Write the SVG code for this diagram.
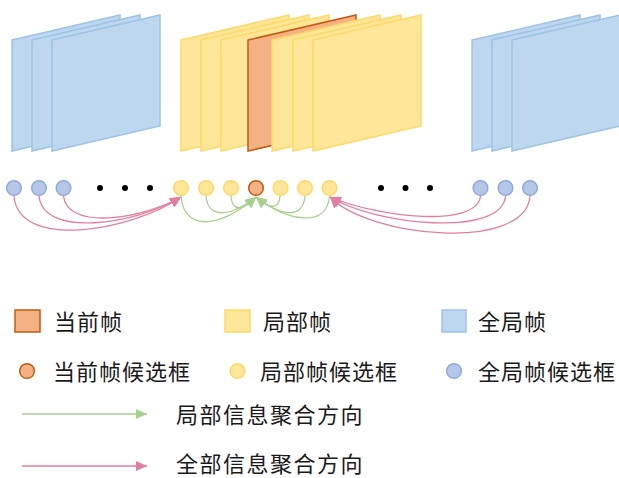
<svg xmlns="http://www.w3.org/2000/svg" xmlns:xlink="http://www.w3.org/1999/xlink" width="619" height="478" viewBox="0 0 619 478">
<style>
.blue{fill:#bdd7ee;stroke:#9dc3e6;stroke-width:1.5}
.yel{fill:#ffe699;stroke:#ffd966;stroke-width:1.5}
.org{fill:#f4b183;stroke:#c55a11;stroke-width:1.5}
.cb{fill:#b4c7e7;stroke:#8faadc;stroke-width:1.5}
.cy{fill:#ffe699;stroke:#ffd966;stroke-width:1.5}
.co{fill:#f4b183;stroke:#c55a11;stroke-width:1.5}
.pk{fill:none;stroke:#e47da0;stroke-width:1.3;marker-end:url(#ap)}
.gr{fill:none;stroke:#a9d18e;stroke-width:1.3;marker-end:url(#ag)}
.t{font-family:"Noto Sans CJK SC","Noto Sans",sans-serif;font-size:22px;fill:#1a1a1a;letter-spacing:1px}
</style>
<defs>
<polygon id="frame" points="0,40 108,15 108,126 0,151"/>
<marker id="ap" markerUnits="userSpaceOnUse" markerWidth="11" markerHeight="10" refX="11" refY="5" orient="auto"><path d="M0,0 L11,5 L0,10 z" fill="#e47da0"/></marker>
<marker id="ag" markerUnits="userSpaceOnUse" markerWidth="11" markerHeight="10" refX="11" refY="5" orient="auto"><path d="M0,0 L11,5 L0,10 z" fill="#a9d18e"/></marker>
</defs>
<g id="frames-left">
<use href="#frame" x="12" class="blue"/>
<use href="#frame" x="32" class="blue"/>
<use href="#frame" x="52" class="blue"/>
</g>
<g id="frames-local">
<use href="#frame" x="181" class="yel"/>
<use href="#frame" x="201" class="yel"/>
<use href="#frame" x="221" class="yel"/>
<use href="#frame" x="248" class="org"/>
<use href="#frame" x="272" class="yel"/>
<use href="#frame" x="293" class="yel"/>
<use href="#frame" x="313" class="yel"/>
</g>
<g id="frames-right">
<use href="#frame" x="472" class="blue"/>
<use href="#frame" x="492" class="blue"/>
<use href="#frame" x="512" class="blue"/>
</g>
<g id="connectors">
<path class="pk" d="M14,196 C18,250 130,232 181,197"/>
<path class="pk" d="M39,196 C43,238 135,225 181,197"/>
<path class="pk" d="M63.5,196 C67,230 140,220 181,197"/>
<path class="pk" d="M480.5,196 C477,228 380,218 330,197"/>
<path class="pk" d="M505.5,196 C502,238 375,225 330,197"/>
<path class="pk" d="M530,196 C526,252 370,238 330,197"/>
<path class="gr" d="M181,196 C184,235 225,225 256,197"/>
<path class="gr" d="M206,196 C208,222 235,214 256,197"/>
<path class="gr" d="M231,196 C232,213 243,210 256,197"/>
<path class="gr" d="M280,196 C279,211 268,208 256,197"/>
<path class="gr" d="M305,196 C303,222 277,214 256,197"/>
<path class="gr" d="M329.5,196 C327,229 287,221 256,197"/>
</g>
<g id="candidates">
<circle class="cb" cx="14" cy="188" r="7.3"/>
<circle class="cb" cx="39" cy="188" r="7.3"/>
<circle class="cb" cx="63.5" cy="188" r="7.3"/>
<circle cx="100" cy="188" r="3" fill="#000"/>
<circle cx="125" cy="188" r="3" fill="#000"/>
<circle cx="150" cy="188" r="3" fill="#000"/>
<circle class="cy" cx="181" cy="188" r="7.3"/>
<circle class="cy" cx="206" cy="188" r="7.3"/>
<circle class="cy" cx="231" cy="188" r="7.3"/>
<circle class="co" cx="256" cy="188" r="7.3"/>
<circle class="cy" cx="280.5" cy="188" r="7.3"/>
<circle class="cy" cx="305" cy="188" r="7.3"/>
<circle class="cy" cx="329.5" cy="188" r="7.3"/>
<circle cx="381" cy="188" r="3" fill="#000"/>
<circle cx="405.5" cy="188" r="3" fill="#000"/>
<circle cx="430" cy="188" r="3" fill="#000"/>
<circle class="cb" cx="480.5" cy="188" r="7.3"/>
<circle class="cb" cx="505.5" cy="188" r="7.3"/>
<circle class="cb" cx="530" cy="188" r="7.3"/>
</g>
<g id="legend">
<rect class="org" x="15" y="310" width="25" height="22"/>
<text class="t" x="54" y="330">当前帧</text>
<rect class="yel" x="225" y="310" width="25" height="22"/>
<text class="t" x="263" y="330">局部帧</text>
<rect class="blue" x="442" y="310" width="24" height="22"/>
<text class="t" x="478" y="330">全局帧</text>
<circle class="co" cx="27" cy="371" r="7.3"/>
<text class="t" x="53" y="380">当前帧候选框</text>
<circle class="cy" cx="237.5" cy="371" r="7.3"/>
<text class="t" x="260" y="380">局部帧候选框</text>
<circle class="cb" cx="454" cy="371" r="7.3"/>
<text class="t" x="478" y="380">全局帧候选框</text>
<line x1="22" y1="414" x2="147" y2="414" stroke="#a9d18e" stroke-width="1.3" marker-end="url(#ag)"/>
<text class="t" x="176" y="423" style="letter-spacing:1.5px">局部信息聚合方向</text>
<line x1="22" y1="466" x2="147" y2="466" stroke="#e47da0" stroke-width="1.3" marker-end="url(#ap)"/>
<text class="t" x="176" y="472" style="letter-spacing:1.5px">全部信息聚合方向</text>
</g>
</svg>
